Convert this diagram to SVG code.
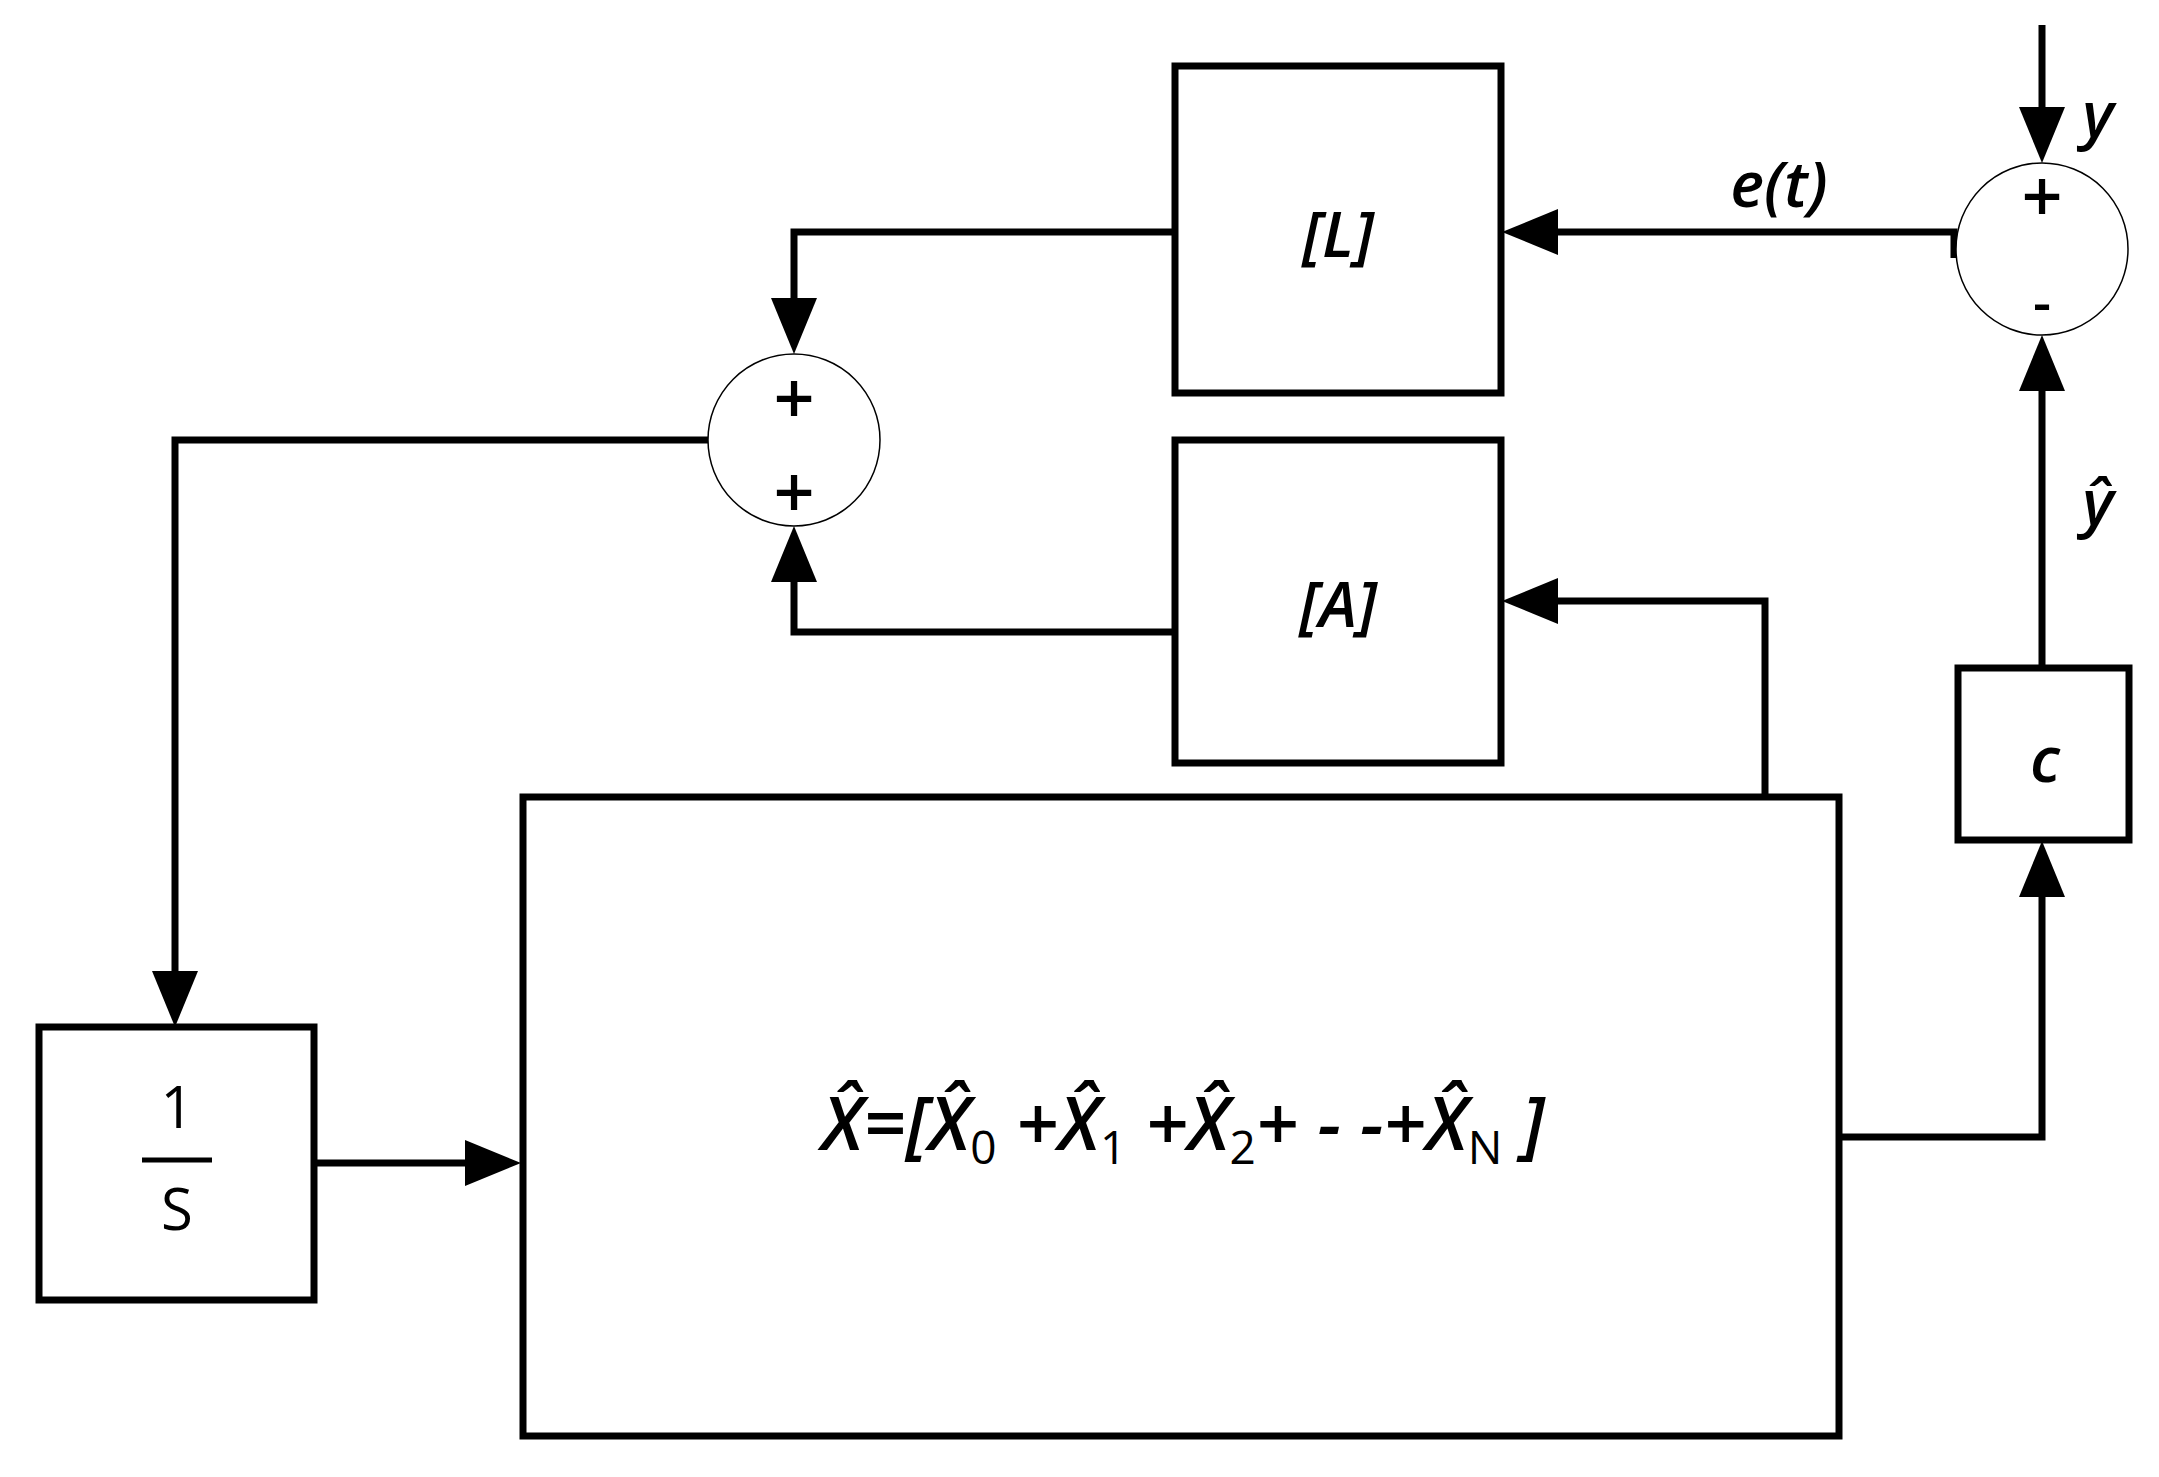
<svg xmlns="http://www.w3.org/2000/svg" width="2159" height="1477" viewBox="0 0 2159 1477">
<style>
.b{fill:#fff;stroke:#000;stroke-width:7}
.c{fill:#fff;stroke:#000;stroke-width:1.5}
.w{fill:none;stroke:#000;stroke-width:7}
text{font-family:"Open Sans","Liberation Sans",sans-serif;fill:#000;text-anchor:middle;font-weight:600}
.i{font-style:italic}
.s{font-style:normal;font-weight:500}
</style>
<defs>
<marker id="a" viewBox="0 0 56 46" refX="44" refY="23" markerWidth="56" markerHeight="46" markerUnits="userSpaceOnUse" orient="auto"><path d="M0,0 L56,23 L0,46 z"/></marker></defs>
<g id="connectors">
<path class="w" d="M1174,232 H794 V342" marker-end="url(#a)"/>
<path class="w" d="M1174,632 H794 V538" marker-end="url(#a)"/>
<path class="w" d="M708,440 H175 V1015" marker-end="url(#a)"/>
<path class="w" d="M316,1163 H509" marker-end="url(#a)"/>
<path class="w" d="M1765,797 V601 H1514" marker-end="url(#a)"/>
<path class="w" d="M1840,1137 H2042 V853" marker-end="url(#a)"/>
<path class="w" d="M2042,668 V347" marker-end="url(#a)"/>
<path class="w" d="M2042,25 V151" marker-end="url(#a)"/>
<path class="w" d="M1954,258 V232 H1514" marker-end="url(#a)"/>
</g>
<g id="L"><rect class="b" x="1175" y="66" width="326" height="327"/><text class="i" x="1338" y="257" font-size="64">[L]</text></g>
<g id="A"><rect class="b" x="1175" y="440" width="326" height="323"/><text class="i" x="1338" y="627" font-size="64">[A]</text></g>
<g id="sum1"><circle class="c" cx="794" cy="440" r="86"/><text x="794" y="424" font-size="72">+</text><text x="794" y="518" font-size="72">+</text></g>
<g id="sum2"><circle class="c" cx="2042" cy="249" r="86"/><text x="2042" y="222" font-size="72">+</text><text x="2042" y="322" font-size="56">-</text></g>
<g id="integ"><rect class="b" x="39" y="1027" width="275" height="273"/><text class="s" x="177" y="1128" font-size="58">1</text><line x1="142" y1="1160" x2="212" y2="1160" stroke="#000" stroke-width="5"/><text class="s" x="177" y="1230" font-size="58">S</text></g>
<g id="state"><rect class="b" x="523" y="797" width="1316" height="639"/><text class="i" x="1183" y="1150" font-size="74">X̂=[X̂<tspan class="s" font-size="46" dy="14">0</tspan><tspan dy="-14"> +X̂</tspan><tspan class="s" font-size="46" dy="14">1</tspan><tspan dy="-14"> +X̂</tspan><tspan class="s" font-size="46" dy="14">2</tspan><tspan dy="-14">+ - -+X̂</tspan><tspan class="s" font-size="46" dy="14">N</tspan><tspan dy="-14"> ]</tspan></text></g>
<g id="C"><rect class="b" x="1958" y="668" width="171" height="172"/><text class="i" x="2045" y="782" font-size="64">c</text></g>
<g id="labels"><text class="i" x="1779" y="207" font-size="64">e(t)</text><text class="i" x="2098" y="137" font-size="64">y</text><text class="i" x="2098" y="525" font-size="64">ŷ</text></g>
</svg>
